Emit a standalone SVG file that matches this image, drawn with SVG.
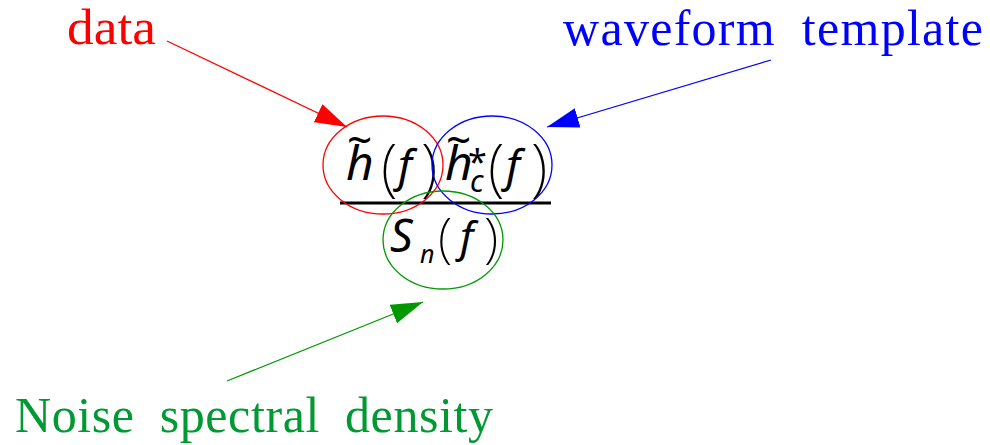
<svg xmlns="http://www.w3.org/2000/svg" width="990" height="445" viewBox="0 0 990 445">
<style>
.lbl{font-family:"Liberation Serif",serif;font-size:50px}
.m{font-family:"Noto Sans",sans-serif;font-style:italic;fill:#000}
.t{font-style:normal;font-size:44px}
.p{font-style:normal;font-weight:200}
.ell{fill:none;stroke-width:1.3}
.con{stroke-width:1.3;fill:none}
</style>
<defs>
<marker id="ar" markerUnits="userSpaceOnUse" markerWidth="32" markerHeight="20" refX="32" refY="10" orient="auto"><path d="M0,0 L32,10 L0,20 z" fill="#ff0000"/></marker>
<marker id="ab" markerUnits="userSpaceOnUse" markerWidth="32" markerHeight="20" refX="32" refY="10" orient="auto"><path d="M0,0 L32,10 L0,20 z" fill="#0000ff"/></marker>
<marker id="ag" markerUnits="userSpaceOnUse" markerWidth="32" markerHeight="20" refX="32" refY="10" orient="auto"><path d="M0,0 L32,10 L0,20 z" fill="#009900"/></marker>
</defs>
<rect width="990" height="445" fill="#fff"/>
<g id="formula">
<line x1="340" y1="203" x2="551" y2="203" stroke="#000" stroke-width="3"/>
<text class="m"><tspan class="t" x="347" y="156">~</tspan><tspan x="346" y="180" font-size="48">h</tspan><tspan class="p" x="381" y="189" font-size="62">(</tspan><tspan x="398" y="181" font-size="44">f</tspan><tspan class="p" x="421" y="189" font-size="62">)</tspan></text>
<text class="m"><tspan class="t" x="446" y="156">~</tspan><tspan x="445" y="180" font-size="48">h</tspan><tspan x="468" y="174" font-size="34" font-style="normal">*</tspan><tspan x="470" y="192" font-size="30">c</tspan><tspan class="p" x="488" y="189" font-size="62">(</tspan><tspan x="506" y="181" font-size="44">f</tspan><tspan class="p" x="531" y="189" font-size="62">)</tspan></text>
<text class="m"><tspan x="390" y="252" font-size="45">S</tspan><tspan x="420" y="263" font-size="25">n</tspan><tspan class="p" x="438" y="256" font-size="54">(</tspan><tspan x="460" y="252" font-size="42">f</tspan><tspan class="p" x="484" y="256" font-size="54">)</tspan></text>
</g>
<g id="node-data">
<ellipse class="ell" cx="383" cy="165" rx="60" ry="49" stroke="#ff0000"/>
<text class="lbl" x="67" y="44" fill="#ff0000" textLength="89" lengthAdjust="spacingAndGlyphs">data</text>
</g>
<g id="node-template">
<ellipse class="ell" cx="492" cy="165" rx="60" ry="49" stroke="#0000ff"/>
<text class="lbl" x="563" y="45" fill="#0000ff" word-spacing="12" textLength="420">waveform template</text>
</g>
<g id="node-noise">
<ellipse class="ell" cx="443" cy="240" rx="60" ry="49" stroke="#009900"/>
<text class="lbl" x="15" y="432" fill="#009933" word-spacing="12" textLength="478">Noise spectral density</text>
</g>
<g id="connectors">
<line class="con" x1="167" y1="41" x2="347" y2="127" stroke="#ff0000" marker-end="url(#ar)"/>
<line class="con" x1="771" y1="60" x2="547" y2="127" stroke="#0000ff" marker-end="url(#ab)"/>
<line class="con" x1="227" y1="381" x2="423" y2="302" stroke="#009900" marker-end="url(#ag)"/>
</g>
</svg>
